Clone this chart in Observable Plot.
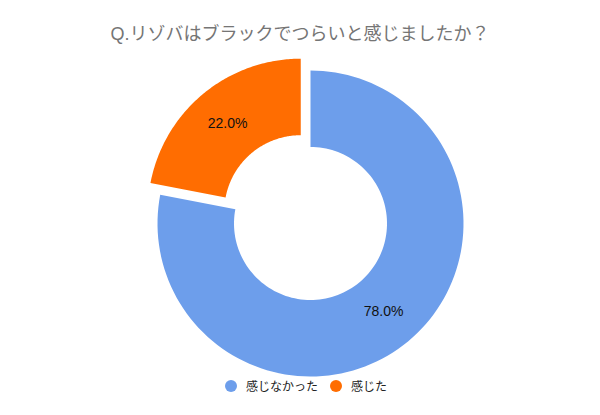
<!DOCTYPE html>
<html><head><meta charset="utf-8">
<script src="https://cdn.jsdelivr.net/npm/d3@7"></script>
<script src="https://cdn.jsdelivr.net/npm/@observablehq/plot@0.6"></script>
<style>
body{margin:0;background:#fff;font-family:"Liberation Sans","Noto Sans CJK JP",sans-serif;}
#wrap{position:relative;width:600px;height:415px;overflow:hidden;}
#title{position:absolute;left:0;top:19px;width:600px;text-align:center;font-size:18px;color:#757575;}
#legend{position:absolute;left:6px;top:377px;width:600px;display:flex;justify-content:center;gap:12px;font-size:12px;color:#222;}
.item{display:flex;align-items:center;gap:9px;}
.sw{width:12px;height:12px;border-radius:50%;display:inline-block;}
#chart{position:absolute;left:0;top:0;}
</style></head>
<body><div id="wrap"><div id="chart"></div><div id="title"></div><div id="legend"></div></div>
<script>
const titleText = "Q.リゾバはブラックでつらいと感じましたか？";
const categories = ["感じなかった", "感じた"];
const values = [78.0, 22.0];
const colors = ["#6d9eeb", "#ff6d01"];
const exploded = [0, 0.1];

const inner = 0.5, outer = 1;
const pie = d3.pie().sort(null).startAngle(0).endAngle(2*Math.PI)(values);
const poly = [];
const labels = [];
pie.forEach((p, i) => {
  const mid = (p.startAngle + p.endAngle)/2;
  const ox = exploded[i]*Math.sin(mid), oy = exploded[i]*Math.cos(mid);
  const n = 120;
  for (let k = 0; k <= n; k++) {
    const a = p.startAngle + (p.endAngle - p.startAngle)*k/n;
    poly.push({label: categories[i], x: ox + outer*Math.sin(a), y: oy + outer*Math.cos(a)});
  }
  for (let k = n; k >= 0; k--) {
    const a = p.startAngle + (p.endAngle - p.startAngle)*k/n;
    poly.push({label: categories[i], x: ox + inner*Math.sin(a), y: oy + inner*Math.cos(a)});
  }
  const rm = (inner+outer)/2;
  labels.push({x: ox + rm*Math.sin(mid), y: oy + rm*Math.cos(mid), text: values[i].toFixed(1) + "%"});
});

const R = 153;
const chart = Plot.plot({
  width: 600, height: 415, margin: 0,
  x: {domain: [-310/R, 290/R], axis: null},
  y: {domain: [-(415-223)/R, 223/R], axis: null},
  color: {domain: categories, range: colors},
  marks: [
    Plot.line(poly, {x: "x", y: "y", z: "label", fill: "label", stroke: null, curve: "linear"}),
    Plot.text(labels, {x: "x", y: "y", text: "text", fontSize: 14, fill: "#111", fontFamily: "Liberation Sans"})
  ]
});
document.getElementById("chart").appendChild(chart);
document.getElementById("title").textContent = titleText;
const lg = document.getElementById("legend");
categories.forEach((c, i) => {
  const it = document.createElement("div"); it.className = "item";
  it.innerHTML = `<span class="sw" style="background:${colors[i]}"></span><span>${c}</span>`;
  lg.appendChild(it);
});
</script></body></html>
